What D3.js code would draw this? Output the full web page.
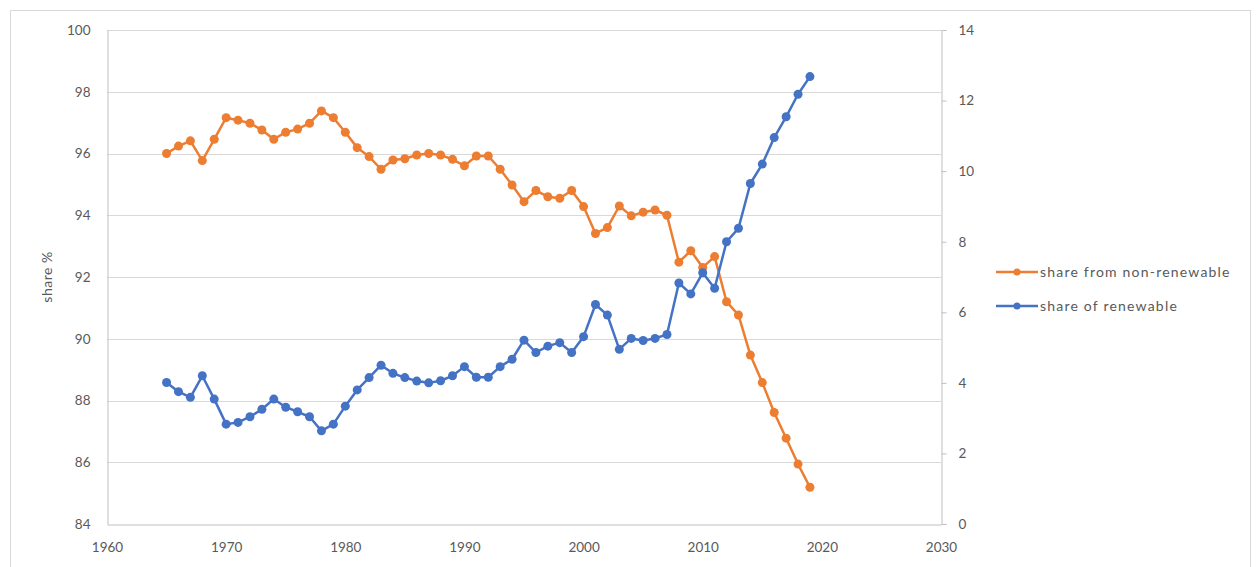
<!DOCTYPE html>
<html>
<head>
<meta charset="utf-8">
<script src="https://cdn.jsdelivr.net/npm/d3@7"></script>
<style>
  body { margin: 0; background: #fff; }
  text { font-family: Lato, "Open Sans", sans-serif; fill: #595959; }
</style>
</head>
<body>
<script>
// years 1965..2019
var years = d3.range(1965, 2020);

var non_renewable = [96.0, 96.24, 96.41, 95.77, 96.46, 97.16, 97.08, 96.98, 96.76, 96.46,
    96.69, 96.79, 96.98, 97.38, 97.16, 96.69, 96.19, 95.9, 95.49, 95.79,
    95.83, 95.95, 96.0, 95.95, 95.81, 95.6, 95.92, 95.92, 95.49, 94.98,
    94.44, 94.8, 94.6, 94.55, 94.8, 94.28, 93.41, 93.6, 94.3, 93.98,
    94.1, 94.17, 94.0, 92.48, 92.85, 92.31, 92.66, 91.2, 90.77, 89.47,
    88.58, 87.61, 86.78, 85.94, 85.19];

var renewable = [4.01, 3.75, 3.59, 4.2, 3.54, 2.83, 2.88, 3.04, 3.25, 3.54,
    3.31, 3.18, 3.04, 2.64, 2.83, 3.34, 3.8, 4.15, 4.5, 4.27,
    4.15, 4.05, 4.0, 4.06, 4.2, 4.46, 4.16, 4.16, 4.46, 4.67,
    5.21, 4.86, 5.04, 5.14, 4.86, 5.31, 6.22, 5.92, 4.95, 5.26,
    5.2, 5.26, 5.37, 6.83, 6.52, 7.12, 6.68, 8.0, 8.38, 9.65,
    10.2, 10.95, 11.54, 12.18, 12.68];

var x_ticks = d3.range(1960, 2031, 10),
    left_ticks = d3.range(84, 101, 2),
    right_ticks = d3.range(0, 15, 2);

var series_names = ["share from non-renewable", "share of renewable"];
var orange_col = "#ed7d31",
    blue_col = "#4472c4";

var width = 1258, height = 567;
var plot_left = 107, plot_right = 941, plot_top = 30, plot_bottom = 524;

var svg = d3.select("body").append("svg")
    .attr("width", width)
    .attr("height", height);

// chart frame
svg.append("rect")
    .attr("x", 10.5).attr("y", 10.5)
    .attr("width", 1240).attr("height", 580)
    .attr("fill", "none")
    .attr("stroke", "#d9d9d9");

var xScale = d3.scaleLinear().domain([1960, 2030]).range([plot_left, plot_right]);
var yLeft = d3.scaleLinear().domain([84, 100]).range([plot_bottom, plot_top]);
var yRight = d3.scaleLinear().domain([0, 14]).range([plot_bottom, plot_top]);

// gridlines
svg.append("g").selectAll("line")
    .data(left_ticks.slice(1))
    .enter().append("line")
    .attr("x1", plot_left).attr("x2", plot_right)
    .attr("y1", function(d) { return Math.round(yLeft(d)) + 0.5; })
    .attr("y2", function(d) { return Math.round(yLeft(d)) + 0.5; })
    .attr("stroke", "#d9d9d9")
    .attr("stroke-width", 1);

// axes
var xAxis = svg.append("g")
    .attr("transform", "translate(0," + (plot_bottom + 0.5) + ")")
    .call(d3.axisBottom(xScale).tickValues(x_ticks).tickFormat(d3.format("d")).tickSize(0).tickPadding(18));
xAxis.select(".domain").attr("stroke", "#bfbfbf");

var lAxis = svg.append("g")
    .attr("transform", "translate(" + (plot_left + 0.5) + ",0)")
    .call(d3.axisLeft(yLeft).tickValues(left_ticks).tickSize(0).tickPadding(17));
lAxis.select(".domain").attr("stroke", "#bfbfbf");

var rAxis = svg.append("g")
    .attr("transform", "translate(" + (plot_right + 0.5) + ",0)")
    .call(d3.axisRight(yRight).tickValues(right_ticks).tickSize(5).tickPadding(12));
rAxis.select(".domain").attr("stroke", "#bfbfbf");
rAxis.selectAll(".tick line").attr("stroke", "#bfbfbf");

svg.selectAll(".tick text")
    .style("font-size", "13.5px")
    .attr("fill", "#595959");

svg.append("text")
    .attr("transform", "translate(52," + (plot_top + plot_bottom) / 2 + ") rotate(-90)")
    .attr("text-anchor", "middle")
    .style("font-size", "14px")
    .style("letter-spacing", "0.5px")
    .text("share %");

// series
function draw_series(values, yScale, col) {
    var pts = years.map(function(y, i) { return [y, values[i]]; });
    var line = d3.line()
        .x(function(d) { return xScale(d[0]); })
        .y(function(d) { return yScale(d[1]); });
    svg.append("path")
        .datum(pts)
        .attr("d", line)
        .attr("fill", "none")
        .attr("stroke", col)
        .attr("stroke-width", 2.5)
        .attr("stroke-linejoin", "round");
    svg.append("g").selectAll("circle")
        .data(pts)
        .enter().append("circle")
        .attr("cx", function(d) { return xScale(d[0]); })
        .attr("cy", function(d) { return yScale(d[1]); })
        .attr("r", 4.5)
        .attr("fill", col);
}

draw_series(non_renewable, yLeft, orange_col);
draw_series(renewable, yRight, blue_col);

// legend
var legend = svg.append("g").attr("transform", "translate(996,272)");
[orange_col, blue_col].forEach(function(col, i) {
    var g = legend.append("g").attr("transform", "translate(0," + i * 34 + ")");
    g.append("line").attr("x1", 0).attr("x2", 42).attr("y1", 0).attr("y2", 0)
        .attr("stroke", col).attr("stroke-width", 2.5);
    g.append("circle").attr("cx", 21).attr("cy", 0).attr("r", 3.5).attr("fill", col);
    g.append("text").attr("x", 44).attr("y", 0).attr("dy", "0.35em")
        .style("font-size", "14px")
        .style("letter-spacing", "1.2px")
        .text(series_names[i]);
});
</script>
</body>
</html>
